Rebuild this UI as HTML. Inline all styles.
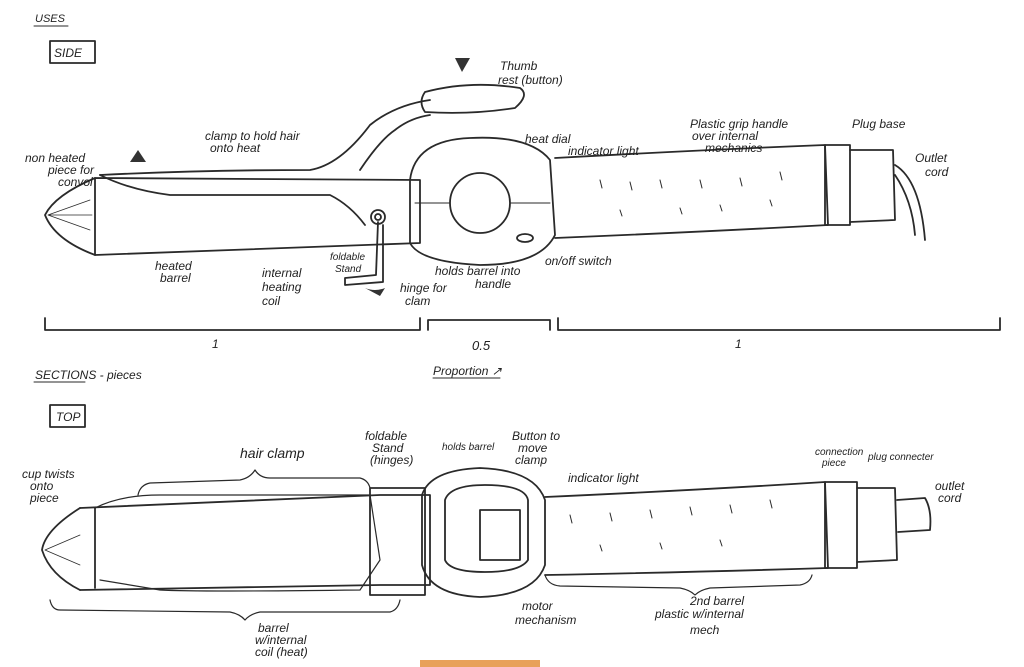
<!DOCTYPE html>
<html><head><meta charset="utf-8"><style>
html,body{margin:0;padding:0;background:#fff}
svg{display:block}
text{font-family:"Liberation Sans",sans-serif;fill:#222;font-style:italic}
</style></head><body>
<svg width="1024" height="667" viewBox="0 0 1024 667" xmlns="http://www.w3.org/2000/svg">
<g fill="none" stroke="#2a2a2a" stroke-width="1.8" stroke-linecap="round" stroke-linejoin="round">
<!-- SIDE label box -->
<rect x="50" y="41" width="45" height="22"/>
<line x1="34" y1="26" x2="68" y2="26" stroke-width="1"/>
<!-- side barrel -->
<path d="M95,178 L420,180 L420,243 L95,255 Z"/>
<path d="M95,178 Q55,195 45,215 Q55,240 95,255"/>
<path d="M48,215 L90,200 M48,215 L90,230 M48,215 L92,215" stroke-width="0.8"/>
<!-- clamp -->
<path d="M100,175 Q200,170 310,170 Q340,165 370,125 Q395,105 430,100"/>
<path d="M100,175 Q130,190 170,195 L330,195 Q350,205 365,225"/>
<path d="M360,170 Q380,140 395,130 Q410,118 430,115"/>
<path d="M425,92 Q470,80 520,88 Q530,95 515,108 Q470,115 425,112 Q418,102 425,92 Z"/>
<circle cx="378" cy="217" r="7"/><circle cx="378" cy="217" r="3"/>
<path d="M378,222 L376,275 L345,278 L345,285 L383,282 L383,225"/>
<!-- dial body -->
<path d="M410,180 Q415,140 470,138 Q530,135 550,160 L555,235 Q540,265 480,265 Q420,262 410,243 Z"/>
<circle cx="480" cy="203" r="30"/>
<line x1="415" y1="203" x2="450" y2="203" stroke-width="1"/>
<line x1="510" y1="203" x2="550" y2="203" stroke-width="1"/>
<ellipse cx="525" cy="238" rx="8" ry="4"/>
<!-- handle -->
<path d="M555,158 Q700,150 825,145 L828,225 Q700,232 555,238"/>
<path d="M600,180 l2,8 M630,182 l2,8 M660,180 l2,8 M700,180 l2,8 M740,178 l2,8 M780,172 l2,8 M620,210 l2,6 M680,208 l2,6 M720,205 l2,6 M770,200 l2,6" stroke-width="1"/>
<!-- plug base -->
<rect x="825" y="145" width="25" height="80"/>
<path d="M850,150 L893,150 L895,220 L850,222"/>
<path d="M895,165 Q920,180 925,240 M895,175 Q912,200 915,235" />
<!-- brackets -->
<path d="M45,318 L45,330 L420,330 L420,318"/>
<path d="M428,330 L428,320 M428,320 L550,320 L550,330"/>
<path d="M558,318 L558,330 L1000,330 L1000,318"/>
<!-- TOP label -->
<rect x="50" y="405" width="35" height="22"/>
<line x1="34" y1="382" x2="85" y2="382" stroke-width="1"/>
<line x1="433" y1="378" x2="500" y2="378" stroke-width="1"/>
<!-- top barrel -->
<path d="M80,508 L380,495 L430,495 L430,585 L380,585 L80,590"/>
<path d="M80,508 Q45,530 42,550 Q50,575 80,590"/>
<path d="M95,508 L95,588"/>
<path d="M45,550 L80,535 M45,550 L80,565" stroke-width="0.8"/>
<path d="M95,508 Q120,495 160,495 L370,495 L380,560 L360,590 Q200,592 160,590 L100,580" stroke-width="1.2"/>
<path d="M370,488 L425,488 L425,595 L370,595 Z"/>
<!-- dial top -->
<path d="M422,495 Q430,470 480,468 Q535,470 545,500 L545,565 Q535,595 480,597 Q430,595 422,565 Z"/>
<path d="M445,500 Q450,485 485,485 Q525,485 528,500 L528,560 Q520,572 485,572 Q450,572 445,560 Z"/>
<path d="M480,510 L520,510 L520,560 L480,560 Z"/>
<!-- handle top -->
<path d="M545,497 Q700,490 825,482 L828,568 Q700,572 545,575"/>
<path d="M570,515 l2,8 M610,513 l2,8 M650,510 l2,8 M690,507 l2,8 M730,505 l2,8 M770,500 l2,8 M600,545 l2,6 M660,543 l2,6 M720,540 l2,6" stroke-width="1"/>
<rect x="825" y="482" width="32" height="86"/>
<path d="M857,488 L895,488 L897,560 L857,562"/>
<path d="M897,500 L925,498 Q932,510 930,530 L898,532"/>
<!-- braces -->
<path d="M138,495 Q140,485 150,483 L240,480 Q250,478 255,470 M255,470 Q260,478 270,478 L360,478 Q368,480 370,488" stroke-width="1.2"/>
<path d="M50,600 Q52,610 60,610 L230,612 Q240,614 245,620 Q250,614 260,612 L390,612 Q398,610 400,600" stroke-width="1.2"/>
<path d="M545,575 Q548,585 560,586 L680,588 Q690,590 695,595 Q700,590 710,588 L800,585 Q810,583 812,575" stroke-width="1.2"/>
</g>
<!-- arrows -->
<g fill="#333">
<path d="M130,162 L138,150 L146,162 Z"/><path d="M455,58 L470,58 L462,72 Z"/>
<path d="M365,288 Q375,292 385,288 L380,296 Z"/>
</g>
<g font-size="12">
<text x="35" y="22" font-size="11" font-style="normal">USES</text>
<text x="54" y="57" font-size="12" font-style="normal">SIDE</text>
<text x="500" y="70">Thumb</text><text x="498" y="84">rest (button)</text>
<text x="25" y="162">non heated</text><text x="48" y="174">piece for</text><text x="58" y="186">convol</text>
<text x="205" y="140">clamp to hold hair</text><text x="210" y="152">onto heat</text>
<text x="525" y="143">heat dial</text>
<text x="568" y="155">indicator light</text>
<text x="690" y="128">Plastic grip handle</text><text x="692" y="140">over internal</text><text x="705" y="152">mechanics</text>
<text x="852" y="128">Plug base</text>
<text x="915" y="162">Outlet</text><text x="925" y="176">cord</text>
<text x="155" y="270">heated</text><text x="160" y="282">barrel</text>
<text x="262" y="277">internal</text><text x="262" y="291">heating</text><text x="262" y="305">coil</text>
<text x="330" y="260" font-size="10">foldable</text><text x="335" y="272" font-size="10">Stand</text>
<text x="400" y="292">hinge for</text><text x="405" y="305">clam</text>
<text x="435" y="275">holds barrel into</text><text x="475" y="288">handle</text>
<text x="545" y="265">on/off switch</text>
<text x="212" y="348" font-style="normal">1</text>
<text x="472" y="350" font-style="normal" font-size="13">0.5</text>
<text x="735" y="348" font-style="normal">1</text>
<text x="35" y="379" font-style="normal">SECTIONS - pieces</text>
<text x="433" y="375">Proportion ↗</text>
<text x="56" y="421" font-style="normal">TOP</text>
<text x="22" y="478">cup twists</text><text x="30" y="490">onto</text><text x="30" y="502">piece</text>
<text x="240" y="458" font-size="14">hair clamp</text>
<text x="365" y="440">foldable</text><text x="372" y="452">Stand</text><text x="370" y="464">(hinges)</text>
<text x="442" y="450" font-size="10">holds barrel</text>
<text x="512" y="440">Button to</text><text x="518" y="452">move</text><text x="515" y="464">clamp</text>
<text x="568" y="482">indicator light</text>
<text x="815" y="455" font-size="10">connection</text><text x="822" y="466" font-size="10">piece</text>
<text x="868" y="460" font-size="10">plug connecter</text>
<text x="935" y="490">outlet</text><text x="938" y="502">cord</text>
<text x="258" y="632">barrel</text><text x="255" y="644">w/internal</text><text x="255" y="656">coil (heat)</text>
<text x="522" y="610">motor</text><text x="515" y="624">mechanism</text>
<text x="690" y="605">2nd barrel</text><text x="655" y="618">plastic w/internal</text><text x="690" y="634">mech</text>
</g>
<rect x="420" y="660" width="120" height="7" fill="#e8a15a"/>
</svg>
</body></html>
